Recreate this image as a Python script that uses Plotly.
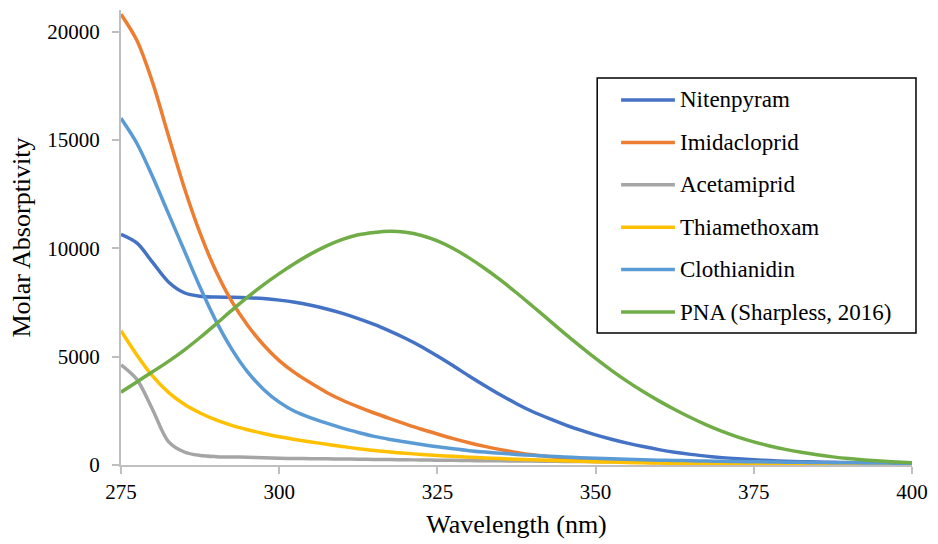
import plotly.graph_objects as go

# Wavelength grid (nm), 2.5 nm steps, shared by all spectra
wavelength = [275 + 2.5 * i for i in range(51)]

nitenpyram = [10650, 10250, 9350, 8450, 7950, 7790, 7750, 7740, 7720, 7680,
              7610, 7510, 7370, 7200, 7000, 6760, 6490, 6180, 5840, 5460,
              5030, 4580, 4110, 3660, 3230, 2830, 2470, 2160, 1880, 1620,
              1390, 1190, 1010, 850, 710, 590, 490, 410, 340, 285,
              240, 205, 177, 154, 136, 122, 110, 100, 92, 85, 80]

imidacloprid = [20800, 19600, 17650, 15200, 12800, 10700, 8950, 7550, 6450, 5550,
                4820, 4250, 3780, 3350, 2990, 2680, 2400, 2140, 1890, 1650,
                1430, 1220, 1030, 860, 710, 580, 470, 390, 320, 265,
                220, 180, 150, 128, 110, 95, 82, 71, 62, 55,
                49, 44, 40, 36, 32, 29, 26, 23, 20, 17, 15]

acetamiprid = [4620, 3950, 2550, 1080, 600, 440, 385, 370, 358, 335,
               312, 300, 291, 284, 277, 269, 259, 250, 241, 232,
               224, 215, 206, 198, 191, 185, 179, 172, 166, 160,
               155, 150, 145, 140, 135, 130, 125, 120, 115, 110,
               105, 100, 95, 90, 85, 80, 75, 70, 65, 60, 55]

thiamethoxam = [6200, 5080, 4100, 3350, 2800, 2400, 2080, 1830, 1630, 1455,
                1300, 1180, 1065, 955, 850, 755, 670, 600, 540, 488,
                442, 400, 362, 327, 295, 266, 240, 215, 193, 172,
                152, 134, 117, 102, 88, 75, 63, 53, 44, 36,
                29, 23, 18, 14, 11, 8, 6, 4, 3, 2, 1]

clothianidin = [16000, 14850, 13300, 11600, 9900, 8200, 6650, 5350, 4300, 3500,
                2900, 2470, 2180, 1930, 1700, 1500, 1320, 1180, 1060, 945,
                840, 745, 660, 595, 540, 490, 445, 405, 370, 340,
                310, 285, 262, 242, 225, 210, 196, 183, 171, 160,
                150, 141, 132, 124, 116, 109, 102, 96, 90, 85, 80]

pna = [3360, 3835, 4305, 4785, 5305, 5885, 6505, 7135, 7745, 8315,
       8835, 9315, 9745, 10115, 10415, 10625, 10735, 10790, 10740, 10590,
       10340, 9990, 9560, 9070, 8530, 7950, 7340, 6720, 6100, 5500,
       4920, 4370, 3860, 3390, 2960, 2560, 2190, 1850, 1550, 1290,
       1070, 880, 720, 585, 470, 375, 295, 230, 180, 135, 100]

series_names = ["Nitenpyram", "Imidacloprid", "Acetamiprid", "Thiamethoxam",
                "Clothianidin", "PNA (Sharpless, 2016)"]
series_values = [nitenpyram, imidacloprid, acetamiprid, thiamethoxam, clothianidin, pna]
series_colors = ["#4472C4", "#ED7D31", "#A5A5A5", "#FFC000", "#5B9BD5", "#70AD47"]

x_ticks = [275, 300, 325, 350, 375, 400]
y_ticks = [0, 5000, 10000, 15000, 20000]

FONT = "Liberation Serif, Times New Roman, serif"
W, H = 938, 544
ML, MR, MT, MB = 121, 23, 10, 79

fig = go.Figure()
for name, vals, col in zip(series_names, series_values, series_colors):
    fig.add_trace(go.Scatter(
        x=wavelength, y=vals, name=name, mode="lines",
        line=dict(color=col, width=3.5, shape="spline", smoothing=0.9),
        showlegend=False,
    ))

# Boxed legend drawn in paper coordinates (pixel layout converted to fractions)
pw, ph = W - ML - MR, H - MT - MB
def px_x(p):
    return (p - ML) / pw
def px_y(p):
    return (H - MB - p) / ph

shapes = [dict(type="rect", xref="paper", yref="paper",
               x0=px_x(599), x1=px_x(919), y0=px_y(333), y1=px_y(78),
               line=dict(color="black", width=1.5), fillcolor="white", layer="above")]
annotations = []
row0, step = 100, 42.4
for i, (name, col) in enumerate(zip(series_names, series_colors)):
    yy = px_y(row0 + i * step)
    shapes.append(dict(type="line", xref="paper", yref="paper",
                       x0=px_x(623), x1=px_x(677), y0=yy, y1=yy,
                       line=dict(color=col, width=3.5), layer="above"))
    annotations.append(dict(xref="paper", yref="paper", x=px_x(680), y=yy,
                            text=name, showarrow=False, xanchor="left", yanchor="middle",
                            font=dict(family=FONT, size=23, color="black")))

fig.update_layout(
    width=W, height=H,
    margin=dict(l=ML, r=MR, t=MT, b=MB),
    paper_bgcolor="white", plot_bgcolor="white",
    font=dict(family=FONT, color="black"),
    shapes=shapes, annotations=annotations,
    showlegend=False,
)
fig.update_xaxes(
    range=[275, 400], tickvals=x_ticks, ticktext=[str(v) for v in x_ticks],
    showgrid=False, zeroline=False, showline=True, linecolor="#BFBFBF", linewidth=2,
    ticks="outside", ticklen=7, tickcolor="#BFBFBF", tickwidth=1.5,
    tickfont=dict(family=FONT, size=21, color="black"),
    title=dict(text="Wavelength (nm)", font=dict(family=FONT, size=26, color="black"),
               standoff=12),
)
fig.update_yaxes(
    range=[0, 21000], tickvals=y_ticks, ticktext=[str(v) for v in y_ticks],
    showgrid=False, zeroline=False, showline=True, linecolor="#BFBFBF", linewidth=2,
    ticks="outside", ticklen=7, tickcolor="#BFBFBF", tickwidth=1.5,
    ticklabelstandoff=8,
    tickfont=dict(family=FONT, size=21, color="black"),
    title=dict(text="Molar Absorptivity", font=dict(family=FONT, size=26, color="black"),
               standoff=9),
)

fig.write_html("out.html")
